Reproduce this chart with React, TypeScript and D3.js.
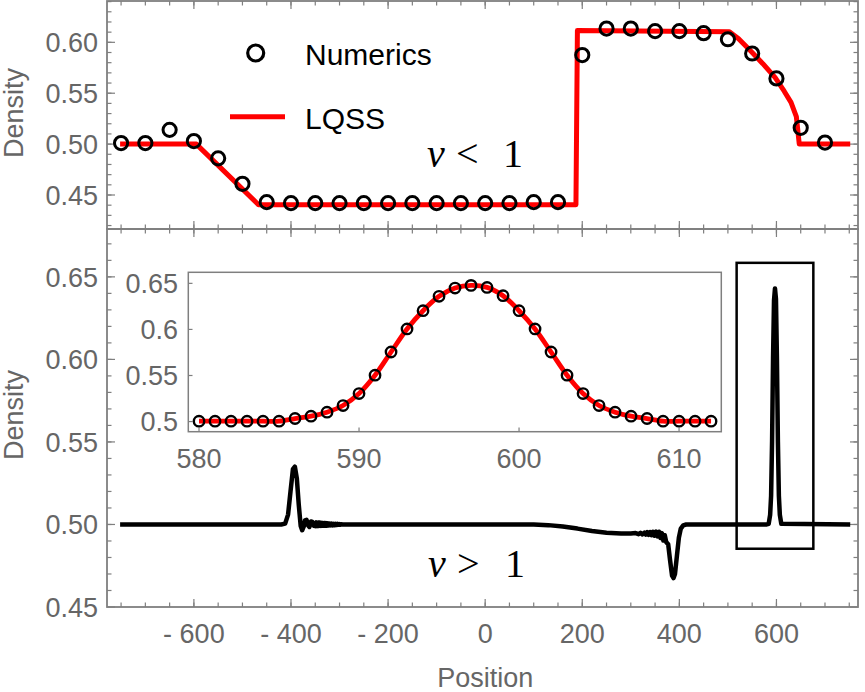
import React from 'react';
import * as d3 from 'd3';

// ---- top panel (v < 1): numerics (circles) and LQSS (red line)
const topCircleX = [-750, -700, -650, -600, -550, -500, -450, -400, -350, -300, -250, -200, -150, -100, -50, 0, 50, 100, 150, 200, 250, 300, 350, 400, 450, 500, 550, 600, 650, 700];
const topCircleY = [0.501, 0.501, 0.514, 0.503, 0.486, 0.461, 0.443, 0.442, 0.442, 0.442, 0.442, 0.442, 0.442, 0.442, 0.442, 0.442, 0.442, 0.443, 0.443, 0.5875, 0.6135, 0.6135, 0.611, 0.611, 0.609, 0.603, 0.589, 0.5645, 0.516, 0.5015];
const topLineX = [-752, -595, -467, 187, 190, 503, 522, 546, 572, 597, 616, 630, 641, 647, 752];
const topLineY = [0.5, 0.5, 0.4405, 0.4405, 0.6115, 0.6105, 0.6035, 0.592, 0.579, 0.5655, 0.552, 0.541, 0.527, 0.5, 0.5];

// ---- inset (zoom of the right pulse)
const insetX = [580, 581, 582, 583, 584, 585, 586, 587, 588, 589, 590, 591, 592, 593, 594, 595, 596, 597, 598, 599, 600, 601, 602, 603, 604, 605, 606, 607, 608, 609, 610, 611, 612];
const insetY = [0.5004, 0.5004, 0.5004, 0.5004, 0.5004, 0.5004, 0.5033, 0.5058, 0.5102, 0.5174, 0.5304, 0.5503, 0.5755, 0.6005, 0.6203, 0.6359, 0.6449, 0.6478, 0.6456, 0.6366, 0.6203, 0.6005, 0.5755, 0.5503, 0.5304, 0.5174, 0.5102, 0.5058, 0.5033, 0.5004, 0.5004, 0.5004, 0.5004];

// ---- bottom panel (v > 1): full density profile
const leftPulseX = [-752, -420, -412, -406, -401, -396, -392, -388, -384, -380, -377, -374, -371, -368, -365, -362, -359, -356, -353, -350,
  -348, -346, -344, -342, -340, -338, -336, -334, -332, -330, -328, -326, -324, -322, -320, -318, -316, -314, -312, -310,
  -308, -306, -304, -302, -300, -298, -296, -294, -290];
const leftPulseY = [0.5, 0.5, 0.5005, 0.506, 0.52, 0.5335, 0.535, 0.528, 0.512, 0.499, 0.4965, 0.4985, 0.5025, 0.5028, 0.4995, 0.4985, 0.5018, 0.5015, 0.4992, 0.499,
  0.5013, 0.4990, 0.5012, 0.4991, 0.5011, 0.4991, 0.501, 0.4992, 0.5009, 0.4993, 0.5008, 0.4993, 0.5007, 0.4994, 0.5006, 0.4995, 0.5005, 0.4995, 0.5004, 0.4996,
  0.5004, 0.4997, 0.5003, 0.4998, 0.5002, 0.4999, 0.5001, 0.5, 0.5];
const rightDipX = [100, 130, 160, 190, 220, 250, 280, 300, 310, 316, 320, 324, 328, 331, 334, 337, 340, 343, 346, 349, 352, 355, 358, 361, 364, 367, 370, 373,
  377, 381, 385, 388, 391, 395, 399, 403, 408, 414];
const rightDipY = [0.5, 0.4996, 0.4988, 0.4975, 0.496, 0.495, 0.4946, 0.4945, 0.4948, 0.4941, 0.4949, 0.494, 0.495, 0.4939, 0.4953, 0.4937, 0.4954, 0.4935, 0.4956, 0.4932, 0.4957, 0.4928, 0.4956, 0.4918, 0.4948, 0.4903, 0.4935, 0.4893,
  0.488, 0.478, 0.469, 0.4675, 0.47, 0.481, 0.492, 0.4975, 0.4995, 0.5];
// right pulse as it appears at full scale
const peakX = [580, 584, 587, 589, 591, 593, 595, 597, 599, 601, 603, 605, 607, 610, 752];
const peakY = [0.5, 0.5004, 0.5058, 0.5174, 0.5503, 0.6005, 0.6359, 0.643, 0.6366, 0.6005, 0.5503, 0.5174, 0.5058, 0.5004, 0.5];

// zoom box drawn around the right pulse
const boxX = [518, 676];
const boxY = [0.4853, 0.6585];

const xTickLabels = ['- 600', '- 400', '- 200', '0', '200', '400', '600'];
const xTickValues = [-600, -400, -200, 0, 200, 400, 600];
const topYTicks = [0.45, 0.5, 0.55, 0.6];
const topYLabels = ['0.45', '0.50', '0.55', '0.60'];
const botYTicks = [0.45, 0.5, 0.55, 0.6, 0.65];
const botYLabels = ['0.45', '0.50', '0.55', '0.60', '0.65'];
const insetXTicks = [580, 590, 600, 610];
const insetXLabels = ['580', '590', '600', '610'];
const insetYTicks = [0.5, 0.55, 0.6, 0.65];
const insetYLabels = ['0.5', '0.55', '0.6', '0.65'];

const FRAME = '#7f7f7f';
const LABEL = '#666666';
const SANS = '"Liberation Sans", Arial, sans-serif';
const SERIF = '"Liberation Serif", "Times New Roman", serif';

const W = 865;
const H = 692;
const L = 107, R = 858;
const topT = 1, mid = 229, botB = 607;

export default function App() {
  const x = d3.scaleLinear().domain([-779, 768]).range([L, R]);
  const yTop = d3.scaleLinear().domain([0.4166, 0.6406]).range([mid, topT]);
  const yBot = d3.scaleLinear().domain([0.45, 0.679]).range([botB, mid]);
  const ix = d3.scaleLinear().domain([579.33, 612.64]).range([188.3, 721.3]);
  const iy = d3.scaleLinear().domain([0.489, 0.662]).range([431.7, 272.3]);

  const topLine = d3.line<number>().x((d, i) => x(topLineX[i])).y(d => yTop(d));

  const bottomPts: [number, number][] = [];
  leftPulseX.forEach((v, i) => bottomPts.push([v, leftPulseY[i]]));
  rightDipX.forEach((v, i) => bottomPts.push([v, rightDipY[i]]));
  peakX.forEach((v, i) => bottomPts.push([v, peakY[i]]));
  const botLine = d3.line<[number, number]>().x(d => x(d[0])).y(d => yBot(d[1]));

  const insetLine = d3.line<number>().x((d, i) => ix(insetX[i])).y(d => iy(d)).curve(d3.curveCatmullRom);

  const minorX = d3.range(-750, 751, 50);
  const majorX = d3.range(-600, 601, 200);
  const topMinorY = d3.range(0.42, 0.645, 0.01);
  const botMinorY = d3.range(0.46, 0.675, 0.01);

  const xTicks = (yEdge: number, dir: number, key: string) => (
    <g key={key}>
      {minorX.map(v => (
        <line key={'m' + v} x1={x(v)} x2={x(v)} y1={yEdge} y2={yEdge + dir * 4.5} stroke={FRAME} strokeWidth={1.2} />
      ))}
      {majorX.map(v => (
        <line key={'M' + v} x1={x(v)} x2={x(v)} y1={yEdge} y2={yEdge + dir * 8} stroke={FRAME} strokeWidth={1.2} />
      ))}
    </g>
  );

  const yTicks = (scale: d3.ScaleLinear<number, number>, minor: number[], major: number[], key: string) => (
    <g key={key}>
      {minor.map((v, i) => (
        <g key={'m' + i}>
          <line x1={L} x2={L + 4.5} y1={scale(v)} y2={scale(v)} stroke={FRAME} strokeWidth={1.2} />
          <line x1={R} x2={R - 4.5} y1={scale(v)} y2={scale(v)} stroke={FRAME} strokeWidth={1.2} />
        </g>
      ))}
      {major.map((v, i) => (
        <g key={'M' + i}>
          <line x1={L} x2={L + 8} y1={scale(v)} y2={scale(v)} stroke={FRAME} strokeWidth={1.2} />
          <line x1={R} x2={R - 8} y1={scale(v)} y2={scale(v)} stroke={FRAME} strokeWidth={1.2} />
        </g>
      ))}
    </g>
  );

  return (
    <div style={{ position: 'absolute', left: 0, top: 0, width: W, height: H, background: '#fff' }}>
      <svg width={W} height={H} style={{ display: 'block' }}>
        <rect x={0} y={0} width={W} height={H} fill="#fff" />

        {/* ---------- top panel ---------- */}
        {xTicks(topT, 1, 'tt')}
        {xTicks(mid, -1, 'tb')}
        {yTicks(yTop, topMinorY, topYTicks, 'ty')}
        {topYTicks.map((v, i) => (
          <text key={'tyl' + i} x={98} y={yTop(v)} dy="0.36em" textAnchor="end" fontFamily={SANS} fontSize={27} fill={LABEL}>
            {topYLabels[i]}
          </text>
        ))}
        <text transform={`translate(23,${113}) rotate(-90)`} textAnchor="middle" fontFamily={SANS} fontSize={27} fill={LABEL}>Density</text>

        <path d={topLine(topLineY) || ''} fill="none" stroke="#ff0000" strokeWidth={5} strokeLinejoin="round" />
        {topCircleX.map((v, i) => (
          <circle key={'tc' + i} cx={x(v)} cy={yTop(topCircleY[i])} r={6.6} fill="none" stroke="#000" strokeWidth={3} />
        ))}

        {/* legend */}
        <circle cx={255.7} cy={53} r={8} fill="none" stroke="#000" strokeWidth={3.2} />
        <text x={305} y={65} fontFamily={SANS} fontSize={30} fill="#000">Numerics</text>
        <line x1={230} x2={285} y1={116.7} y2={116.7} stroke="#ff0000" strokeWidth={5} />
        <text x={305} y={129} fontFamily={SANS} fontSize={30} fill="#000">LQSS</text>

        <text x={427} y={167} fontFamily={SERIF} fontSize={40} fill="#000">
          <tspan fontStyle="italic">v</tspan>
          <tspan x={456}>&lt;</tspan>
          <tspan x={503}>1</tspan>
        </text>

        {/* ---------- bottom panel ---------- */}
        {xTicks(mid, 1, 'bt')}
        {xTicks(botB, -1, 'bb')}
        {yTicks(yBot, botMinorY, botYTicks, 'by')}
        {botYTicks.map((v, i) => (
          <text key={'byl' + i} x={98} y={yBot(v)} dy="0.36em" textAnchor="end" fontFamily={SANS} fontSize={27} fill={LABEL}>
            {botYLabels[i]}
          </text>
        ))}
        {xTickValues.map((v, i) => (
          <text key={'bxl' + i} x={x(v)} y={643} textAnchor="middle" fontFamily={SANS} fontSize={27} fill={LABEL}>
            {xTickLabels[i]}
          </text>
        ))}
        <text transform={`translate(23,${415}) rotate(-90)`} textAnchor="middle" fontFamily={SANS} fontSize={27} fill={LABEL}>Density</text>
        <text x={x(0)} y={687} textAnchor="middle" fontFamily={SANS} fontSize={27} fill={LABEL}>Position</text>

        <path d={botLine(bottomPts) || ''} fill="none" stroke="#000" strokeWidth={4.5} strokeLinejoin="round" />
        <rect x={x(boxX[0])} y={yBot(boxY[1])} width={x(boxX[1]) - x(boxX[0])} height={yBot(boxY[0]) - yBot(boxY[1])}
          fill="none" stroke="#000" strokeWidth={2.5} />

        <text x={428} y={577} fontFamily={SERIF} fontSize={40} fill="#000">
          <tspan fontStyle="italic">v</tspan>
          <tspan x={457}>&gt;</tspan>
          <tspan x={505}>1</tspan>
        </text>

        {/* ---------- inset ---------- */}
        <rect x={188.3} y={272.3} width={533} height={159.4} fill="#fff" stroke={FRAME} strokeWidth={1.5} />
        {insetXTicks.map((v, i) => (
          <g key={'ixt' + i}>
            <line x1={ix(v)} x2={ix(v)} y1={431.7} y2={427.5} stroke={FRAME} strokeWidth={1.2} />
            <text x={ix(v)} y={468} textAnchor="middle" fontFamily={SANS} fontSize={27} fill={LABEL}>{insetXLabels[i]}</text>
          </g>
        ))}
        {insetYTicks.map((v, i) => (
          <g key={'iyt' + i}>
            <line x1={188.3} x2={192.5} y1={iy(v)} y2={iy(v)} stroke={FRAME} strokeWidth={1.2} />
            <text x={178} y={iy(v)} dy="0.36em" textAnchor="end" fontFamily={SANS} fontSize={27} fill={LABEL}>{insetYLabels[i]}</text>
          </g>
        ))}
        <path d={insetLine(insetY) || ''} fill="none" stroke="#ff0000" strokeWidth={4.8} strokeLinejoin="round" />
        {insetX.map((v, i) => (
          <circle key={'ic' + i} cx={ix(v)} cy={iy(insetY[i])} r={5.2} fill="none" stroke="#000" strokeWidth={2.4} />
        ))}

        {/* frames */}
        <rect x={L} y={topT} width={R - L} height={mid - topT} fill="none" stroke={FRAME} strokeWidth={1.8} />
        <rect x={L} y={mid} width={R - L} height={botB - mid} fill="none" stroke={FRAME} strokeWidth={1.8} />
      </svg>
    </div>
  );
}
